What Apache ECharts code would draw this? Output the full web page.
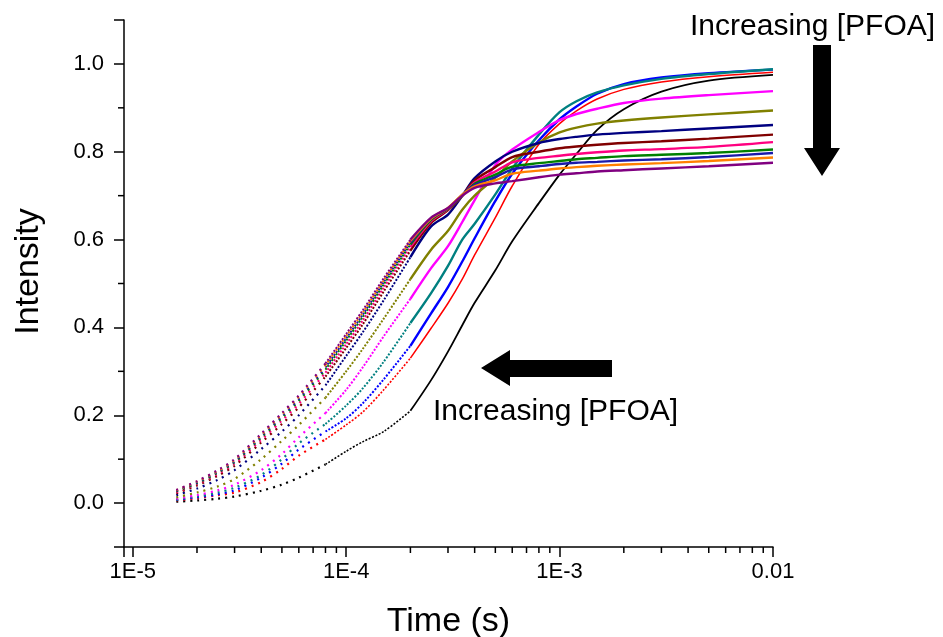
<!DOCTYPE html>
<html><head><meta charset="utf-8">
<script src="https://cdn.jsdelivr.net/npm/echarts@6/dist/echarts.min.js"></script>
<style>html,body{margin:0;padding:0;background:#fff}#c{width:943px;height:637px}</style>
</head><body><div id="c"></div><script>
// Time (s)
const timeS = [1.6e-5, 2e-5, 2.5e-5, 3e-5, 4e-5, 5e-5, 6e-5, 8e-5, 1e-4, 1.2e-4, 1.5e-4, 2e-4, 2.5e-4, 3e-4, 3.5e-4, 4e-4, 5e-4, 6e-4, 8e-4, 1e-3, 1.2e-3, 1.5e-3, 2e-3, 3e-3, 5e-3, 1e-2];
// Intensity curves, lowest [PFOA] first
const black   = [0.003,0.006,0.010,0.015,0.028,0.042,0.058,0.088,0.118,0.140,0.163,0.210,0.280,0.345,0.405,0.456,0.530,0.596,0.683,0.748,0.795,0.850,0.897,0.937,0.962,0.975];
const red     = [0.006,0.011,0.018,0.024,0.048,0.078,0.108,0.145,0.178,0.208,0.258,0.330,0.398,0.455,0.510,0.565,0.650,0.722,0.817,0.864,0.893,0.920,0.942,0.959,0.971,0.981];
const blue    = [0.007,0.013,0.020,0.029,0.058,0.090,0.122,0.163,0.193,0.228,0.282,0.358,0.432,0.492,0.550,0.603,0.688,0.750,0.826,0.874,0.903,0.932,0.954,0.969,0.979,0.987];
const teal    = [0.008,0.015,0.024,0.035,0.064,0.100,0.136,0.180,0.222,0.262,0.322,0.410,0.478,0.540,0.600,0.636,0.703,0.762,0.839,0.890,0.915,0.935,0.951,0.966,0.977,0.988];
const magenta = [0.010,0.018,0.029,0.042,0.075,0.112,0.150,0.205,0.258,0.310,0.380,0.465,0.535,0.585,0.640,0.690,0.770,0.805,0.845,0.872,0.886,0.898,0.911,0.921,0.929,0.938];
const olive   = [0.013,0.024,0.038,0.055,0.100,0.142,0.178,0.240,0.300,0.352,0.420,0.510,0.577,0.620,0.668,0.700,0.741,0.778,0.821,0.844,0.855,0.864,0.871,0.878,0.885,0.894];
const navy    = [0.018,0.033,0.053,0.075,0.123,0.163,0.200,0.268,0.335,0.390,0.462,0.560,0.630,0.657,0.700,0.740,0.778,0.800,0.820,0.829,0.834,0.839,0.843,0.847,0.853,0.861];
const wine    = [0.022,0.040,0.062,0.085,0.138,0.180,0.218,0.288,0.353,0.408,0.482,0.575,0.638,0.667,0.700,0.735,0.765,0.788,0.800,0.808,0.812,0.816,0.820,0.824,0.830,0.839];
const pink    = [0.025,0.043,0.066,0.090,0.144,0.188,0.226,0.297,0.362,0.417,0.491,0.583,0.642,0.669,0.700,0.730,0.755,0.776,0.786,0.791,0.795,0.799,0.803,0.806,0.811,0.822];
const green   = [0.027,0.045,0.069,0.093,0.149,0.194,0.233,0.304,0.370,0.425,0.498,0.589,0.645,0.670,0.700,0.727,0.748,0.766,0.774,0.779,0.783,0.786,0.790,0.793,0.797,0.805];
const royal   = [0.028,0.047,0.071,0.095,0.152,0.198,0.237,0.309,0.375,0.430,0.503,0.593,0.647,0.671,0.702,0.724,0.742,0.760,0.767,0.772,0.775,0.777,0.780,0.783,0.788,0.797];
const orange  = [0.029,0.049,0.073,0.098,0.155,0.202,0.242,0.314,0.380,0.435,0.507,0.597,0.648,0.672,0.702,0.721,0.735,0.750,0.757,0.762,0.765,0.768,0.771,0.774,0.779,0.787];
const purple  = [0.030,0.050,0.075,0.100,0.158,0.205,0.245,0.318,0.385,0.440,0.512,0.600,0.650,0.672,0.700,0.718,0.728,0.733,0.742,0.748,0.751,0.755,0.758,0.762,0.767,0.775];

const curves = [
  {name:'c1', values:black, color:'#000000'},
  {name:'c2', values:red, color:'#FF0000'},
  {name:'c3', values:blue, color:'#0000FF'},
  {name:'c4', values:teal, color:'#008080'},
  {name:'c5', values:magenta, color:'#FF00FF'},
  {name:'c6', values:olive, color:'#808000'},
  {name:'c7', values:navy, color:'#000080'},
  {name:'c8', values:wine, color:'#800000'},
  {name:'c9', values:pink, color:'#FF0080'},
  {name:'c10', values:green, color:'#008000'},
  {name:'c11', values:royal, color:'#1A1AAA'},
  {name:'c12', values:orange, color:'#FF8000'},
  {name:'c13', values:purple, color:'#800080'}
];

const xMin = 9.1e-6, xMax = 0.01, yMin = -0.1, yMax = 1.1;
const xMinorTicks = [2e-5,3e-5,4e-5,5e-5,6e-5,7e-5,8e-5,9e-5,2e-4,3e-4,4e-4,5e-4,6e-4,7e-4,8e-4,9e-4,2e-3,3e-3,4e-3,5e-3,6e-3,7e-3,8e-3,9e-3];
const yMinorTicks = [0.1,0.3,0.5,0.7,0.9];

const FONT = '"Liberation Sans", Arial, sans-serif';

function seg(arr, a, b){ return timeS.slice(a, b+1).map((t,i)=>[t, arr[a+i]]); }

const series = [];
curves.forEach((c, k) => {
  const w = k === 0 ? 1.8 : (k === 1 ? 1.5 : 2.4);
  const base = {type:'line', showSymbol:false, symbol:'none', smooth:0.3, silent:true, animation:false, z: 2 + k};
  series.push(Object.assign({}, base, {data: seg(c.values, 0, 7), lineStyle:{color:c.color, width:2.2, type:[2,5], cap:'butt'}}));
  series.push(Object.assign({}, base, {data: seg(c.values, 7, 11), lineStyle:{color:c.color, width:(k<2?1.6:2), type:[2,1.6], cap:'butt'}}));
  series.push(Object.assign({}, base, {data: seg(c.values, 11, timeS.length-1), lineStyle:{color:c.color, width:w}}));
});
series.push({
  type:'custom', silent:true, animation:false, clip:false,
  data: xMinorTicks.map(v=>[v, yMin]),
  renderItem:(p, api)=>{ const pt = api.coord([api.value(0), api.value(1)]);
    return {type:'line', shape:{x1:pt[0], y1:pt[1], x2:pt[0], y2:pt[1]+6}, style:{stroke:'#000', lineWidth:1.5}}; }
});
series.push({
  type:'custom', silent:true, animation:false, clip:false,
  data: yMinorTicks.map(v=>[xMin, v]),
  renderItem:(p, api)=>{ const pt = api.coord([api.value(0), api.value(1)]);
    return {type:'line', shape:{x1:pt[0]-6, y1:pt[1], x2:pt[0], y2:pt[1]}, style:{stroke:'#000', lineWidth:1.5}}; }
});

const chart = echarts.init(document.getElementById('c'), null, {renderer:'canvas'});
chart.setOption({
  animation:false,
  backgroundColor:'#fff',
  grid:{left:124, right:170, top:20, bottom:90, containLabel:false, outerBoundsMode:'none'},
  xAxis:{
    type:'log', min:xMin, max:xMax, logBase:10,
    name:'Time (s)', nameLocation:'middle', nameGap:58,
    nameTextStyle:{fontFamily:FONT, fontSize:34, color:'#000'},
    axisLine:{show:true, onZero:false, lineStyle:{color:'#000', width:1.5}},
    axisTick:{show:true, inside:false, length:10, lineStyle:{color:'#000', width:1.5}},
    splitLine:{show:false}, minorTick:{show:false}, minorSplitLine:{show:false},
    axisLabel:{fontFamily:FONT, fontSize:22, color:'#000', margin:14,
      showMinLabel:true, showMaxLabel:true,
      formatter:(v)=>{ const e = Math.log10(v); const r = Math.round(e);
        if (Math.abs(e-r) > 1e-6) return '';
        return r === -2 ? '0.01' : '1E' + r; }}
  },
  yAxis:{
    type:'value', min:yMin, max:yMax,
    name:'Intensity', nameLocation:'middle', nameGap:78, nameRotate:90,
    nameTextStyle:{fontFamily:FONT, fontSize:34, color:'#000', padding:[0,0,0,24]},
    axisLine:{show:true, onZero:false, lineStyle:{color:'#000', width:1.5}},
    axisTick:{show:true, inside:false, length:10, lineStyle:{color:'#000', width:1.5}},
    splitLine:{show:false},
    axisLabel:{fontFamily:FONT, fontSize:22, color:'#000', margin:20,
      formatter:(v)=>{ const q = v/0.2; if (Math.abs(q-Math.round(q))>1e-6 || v < -1e-6 || v > 1.0001) return ''; return Math.abs(v).toFixed(1); }}
  },
  graphic:[
    {type:'text', left:690, top:12, silent:true, style:{text:'Increasing [PFOA]', font:'30px ' + FONT, fill:'#000'}},
    {type:'text', left:433, top:397, silent:true, style:{text:'Increasing [PFOA]', font:'30px ' + FONT, fill:'#000'}},
    {type:'polygon', silent:true, shape:{points:[[813,45],[831,45],[831,148],[840,148],[822,176],[804,148],[813,148]]}, style:{fill:'#000'}},
    {type:'polygon', silent:true, shape:{points:[[481,368],[510,350],[510,360],[612,360],[612,377],[510,377],[510,386]]}, style:{fill:'#000'}}
  ],
  series: series
});
</script></body></html>
